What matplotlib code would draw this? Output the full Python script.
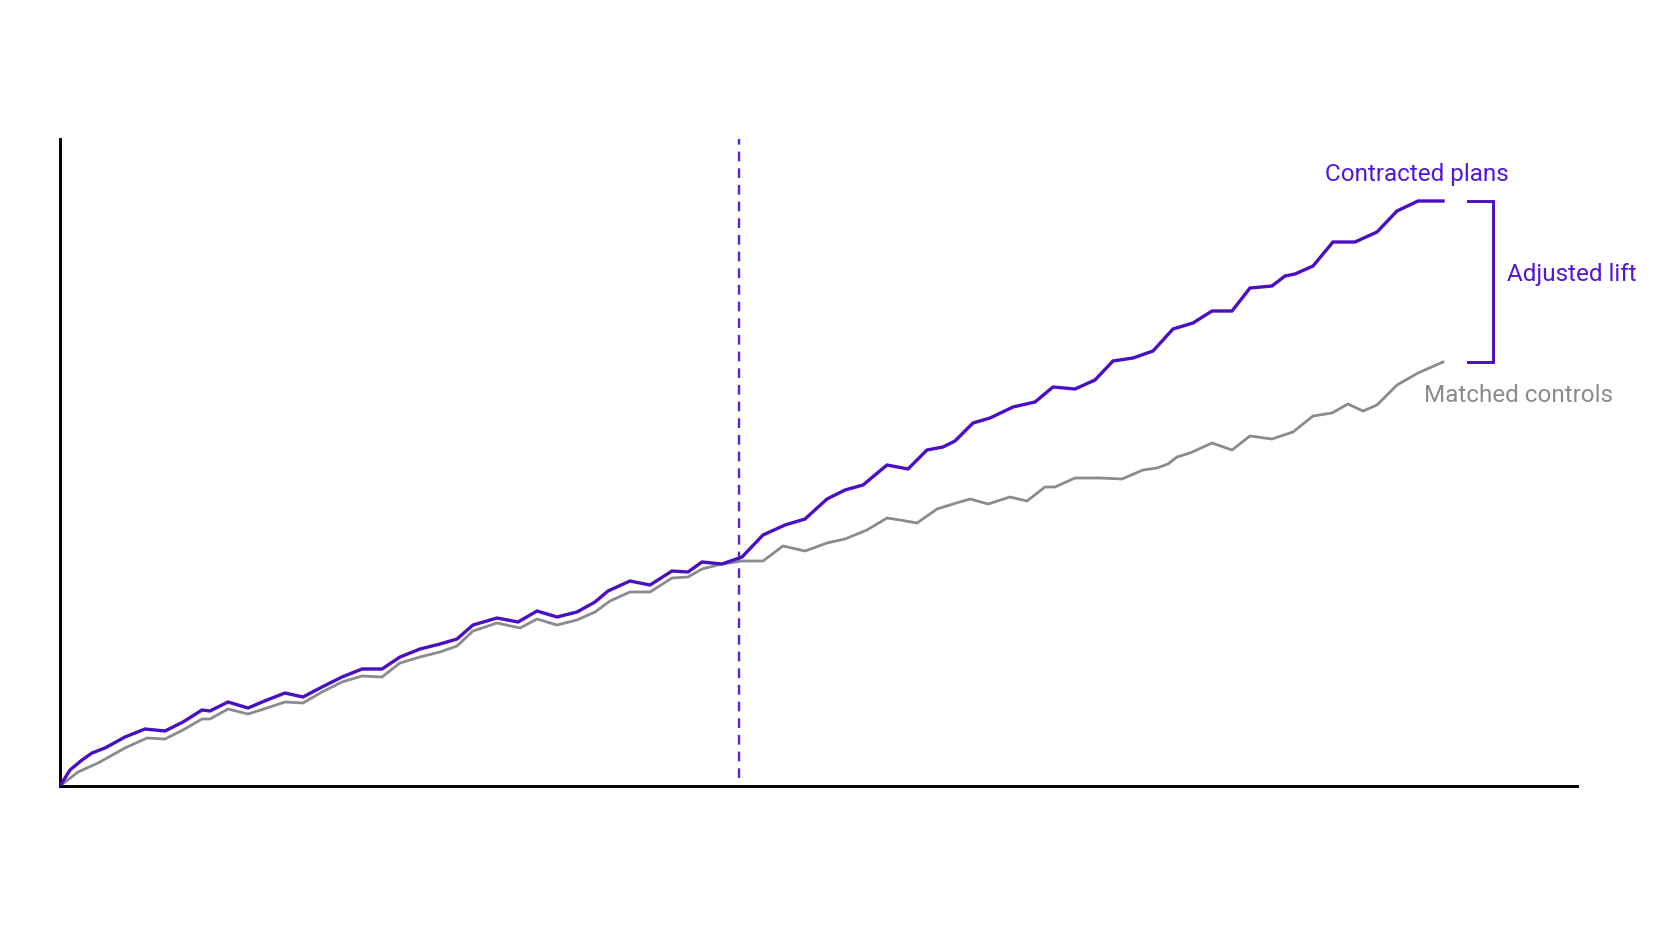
import matplotlib
matplotlib.use("Agg")
import matplotlib.pyplot as plt

# weeks since start, index value (arbitrary units)
contracted_week = [0, 0.5, 1.1, 1.6, 2.25, 3.25, 4.25, 5.25, 6.15, 7.1, 7.5, 8.4, 9.4, 10.35,
                   11.25, 12.15, 13.1, 14.1, 15.1, 16.1, 17.0, 18.0, 19.0, 19.85, 20.65, 21.85,
                   22.9, 23.85, 24.85, 25.85, 26.75, 27.4, 28.5, 29.5, 30.6, 31.4, 32.1, 33.1,
                   34.1, 35.15, 36.25, 37.25, 38.35, 39.25, 40.15, 41.35, 42.4, 43.35, 44.15,
                   44.75, 45.65, 46.5, 47.65, 48.75, 49.65, 50.75, 51.75, 52.65, 53.65, 54.65,
                   55.65, 56.65, 57.6, 58.6, 59.5, 60.6, 61.25, 61.75, 62.65, 63.65, 64.75,
                   65.85, 66.85, 67.9, 69.15]
contracted_val = [0, 3.2, 5.2, 6.6, 7.6, 9.8, 11.4, 11.0, 12.8, 15.2, 15.0, 16.8, 15.6, 17.2,
                  18.6, 17.8, 19.8, 21.8, 23.4, 23.4, 25.8, 27.4, 28.4, 29.4, 32.2, 33.6,
                  32.8, 35.0, 33.8, 34.8, 36.8, 39.0, 41.0, 40.2, 43.0, 42.8, 44.8, 44.4,
                  45.8, 50.2, 52.2, 53.4, 57.4, 59.2, 60.2, 64.2, 63.4, 67.2, 67.8,
                  69.0, 72.6, 73.6, 75.8, 76.8, 79.8, 79.4, 81.2, 85.0, 85.6, 87.0,
                  91.4, 92.6, 95.0, 95.0, 99.6, 100.0, 102.0, 102.4, 104.0, 108.8, 108.8,
                  110.8, 115.0, 117.0, 117.0]

control_week = [0, 0.9, 1.9, 3.25, 4.35, 5.25, 6.15, 7.1, 7.5, 8.4, 9.4, 10.35, 11.25, 12.15,
                13.1, 14.1, 15.1, 16.1, 17.0, 18.0, 19.0, 19.85, 20.65, 21.85, 23.0, 23.85,
                24.85, 25.85, 26.75, 27.5, 28.5, 29.5, 30.6, 31.4, 32.1, 33.1, 34.1, 35.15,
                36.15, 37.25, 38.35, 39.25, 40.35, 41.35, 42.0, 42.85, 43.85, 44.65, 45.5,
                46.4, 47.5, 48.35, 49.25, 49.75, 50.75, 52.0, 53.1, 54.15, 54.85, 55.4,
                55.85, 56.5, 57.6, 58.6, 59.5, 60.6, 61.65, 62.65, 63.6, 64.4, 65.15,
                65.85, 66.85, 67.9, 69.15]
control_val = [0, 2.8, 4.6, 7.6, 9.6, 9.4, 11.2, 13.4, 13.4, 15.4, 14.4, 15.6, 16.8, 16.6,
               18.8, 20.8, 22.0, 21.8, 24.6, 25.8, 26.8, 28.0, 31.0, 32.6, 31.6, 33.4,
               32.2, 33.2, 34.8, 37.0, 38.8, 38.8, 41.6, 41.8, 43.4, 44.4, 45.0, 45.0,
               48.0, 47.0, 48.6, 49.4, 51.2, 53.6, 53.2, 52.6, 55.4, 56.4, 57.4,
               56.4, 57.8, 57.0, 59.8, 59.8, 61.6, 61.6, 61.4, 63.2, 63.6, 64.4,
               65.8, 66.6, 68.6, 67.2, 70.0, 69.4, 70.8, 74.0, 74.6, 76.4, 75.0,
               76.2, 80.2, 82.6, 84.8]

launch_week = 33.95

purple = "#4a0fc4"
purple_txt = "#5316dc"
grey = "#8a8a90"

plt.rcParams['font.family'] = ['Roboto', 'DejaVu Sans']
plt.rcParams['lines.scale_dashes'] = False

fig = plt.figure(figsize=(16.72, 9.41), dpi=100)
ax = fig.add_axes([60 / 1672, 155 / 941, (1577 - 60) / 1672, (786 - 139) / 941])

ax.plot(control_week, control_val, color=grey, lw=2.0, solid_joinstyle='miter', zorder=2)
ax.plot(contracted_week, contracted_val, color=purple, lw=2.4, solid_joinstyle='miter', zorder=3)

ax.plot([launch_week, launch_week], [1.6, 129.4], color="#5a22dc", lw=1.7, dashes=(7, 5), zorder=1)

# bracket between the two end values
top = contracted_val[-1]
bot = control_val[-1]
bx0, bx1 = 70.4, 71.65
ax.plot([bx0, bx1, bx1, bx0], [top, top, bot, bot], color=purple, lw=2.1,
        solid_joinstyle='miter', clip_on=False)

ax.text(67.85, 122.4, "Contracted plans", color=purple_txt, fontsize=17.5,
        ha='center', va='center', clip_on=False)
ax.text(72.35, 102.4, "Adjusted lift", color=purple_txt, fontsize=17.5,
        ha='left', va='center', clip_on=False)
ax.text(68.2, 78.0, "Matched controls", color=grey, fontsize=17.5,
        ha='left', va='center', clip_on=False)

ax.set_xlim(0, 75.85)
ax.set_ylim(0, 129.4)
ax.set_xticks([])
ax.set_yticks([])
for s in ['top', 'right']:
    ax.spines[s].set_visible(False)
for s in ['left', 'bottom']:
    ax.spines[s].set_linewidth(2.1)
    ax.spines[s].set_color('black')

fig.savefig("out.png", dpi=100)
